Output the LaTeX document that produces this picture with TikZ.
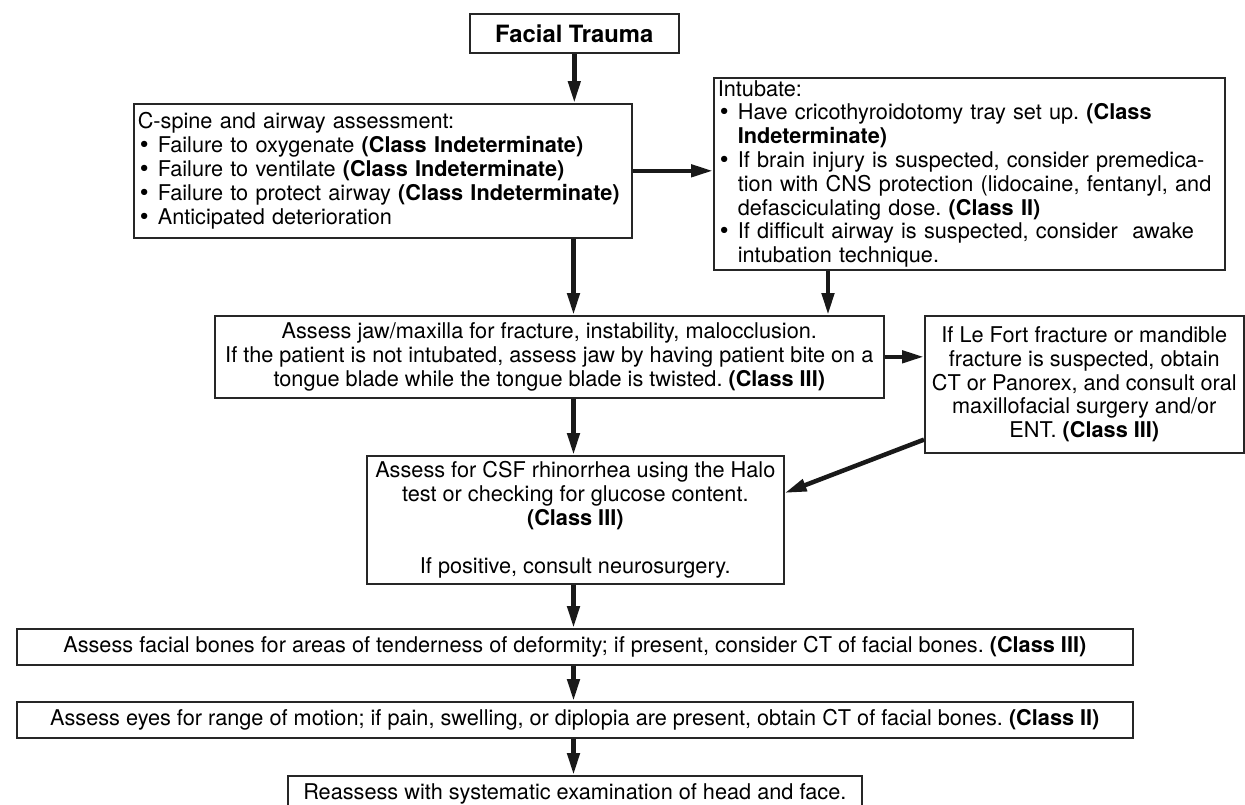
\documentclass[tikz,border=0pt]{standalone}
\usepackage{fontspec}
\setmainfont{TeX Gyre Heros}
\newfontfamily\dejavu{DejaVu Sans}
\usetikzlibrary{arrows.meta,calc}
\newcommand\mainf{\fontsize{21.7pt}{23.8pt}\selectfont}
\newcommand\ftfont{\fontsize{23.8pt}{26pt}\selectfont\bfseries}
\newcommand\bul{{\dejavu\mdseries •}\ }
\newcommand\hang{\phantom{\bul}}
\frenchspacing
\begin{document}
\begin{tikzpicture}[x=1pt,y=-1pt,
  box/.style={draw=black!85, line width=1.6pt, inner xsep=4pt, inner ysep=0pt, font=\mainf, text=black},
  arr/.style={line width=4.5pt, draw=black!90, -{Triangle[length=22pt,width=12pt]}}]
\useasboundingbox (0,0) rectangle (1245,804);
\fill[white] (0,0) rectangle (1245,804);

\node[box, anchor=north west, minimum width=209pt, minimum height=39pt, font=\ftfont] (ft) at (469,13) {Facial Trauma};

\node[box, anchor=north west, minimum height=134pt, text width=490pt, align=left] (cs) at (133,103) {C-spine and airway assessment:\\
\bul Failure to oxygenate \textbf{(Class Indeterminate)}\\
\bul Failure to ventilate \textbf{(Class Indeterminate)}\\
\bul Failure to protect airway \textbf{(Class Indeterminate)}\\
\bul Anticipated deterioration};

\node[box, anchor=north west, minimum height=192pt, text width=503pt, align=left] (intub) at (713,77) {Intubate:\\
\bul Have cricothyroidotomy tray set up. \textbf{(Class}\\
\hang\textbf{Indeterminate)}\\
\bul If brain injury is suspected, consider premedica-\\
\hang tion with CNS protection (lidocaine, fentanyl, and\\
\hang defasciculating dose. \textbf{(Class II)}\\
\bul If difficult airway is suspected, consider\ \ awake\\
\hang intubation technique.};

\node[box, anchor=north west, minimum width=669pt, minimum height=82pt, align=center] (jaw) at (214,315) {Assess jaw/maxilla for fracture, instability, malocclusion.\\
If the patient is not intubated, assess jaw by having patient bite on a\\
tongue blade while the tongue blade is twisted. \textbf{(Class III)}};

\node[box, anchor=north west, minimum width=319pt, minimum height=137pt, align=center] (lefort) at (924,315) {If Le Fort fracture or mandible\\
fracture is suspected, obtain\\
CT or Panorex, and consult oral\\
maxillofacial surgery and/or\\
ENT. \textbf{(Class III)}};

\node[box, anchor=north west, minimum width=417pt, minimum height=128pt, align=center] (csf) at (366,455) {Assess for CSF rhinorrhea using the Halo\\
test or checking for glucose content.\\
\textbf{(Class III)}\\[23.8pt]
If positive, consult neurosurgery.};

\node[box, anchor=north west, minimum width=1116pt, minimum height=36pt, align=center] (fac) at (16,628) {Assess facial bones for areas of tenderness of deformity; if present, consider CT of facial bones. \textbf{(Class III)}};

\node[box, anchor=north west, minimum width=1116pt, minimum height=36pt, align=center] (eyes) at (16,701) {Assess eyes for range of motion; if pain, swelling, or diplopia are present, obtain CT of facial bones. \textbf{(Class II)}};

\node[box, anchor=north west, minimum width=574pt, minimum height=36pt, align=center] (reass) at (287,775) {Reassess with systematic examination of head and face.};

\coordinate (colm) at (573.5,0);
\coordinate (coli) at (828,0);
\coordinate (lfa) at ($(lefort.south west)+(0,-14)$);
\coordinate (csfa) at ($(csf.north east)+(0,38)$);

\draw[arr] (ft.south) -- (ft.south |- cs.north);
\draw[arr] (cs.south -| colm) -- (jaw.north -| colm);
\draw[arr] (cs.east) -- (cs.east -| intub.west);
\draw[arr] (intub.south -| coli) -- (jaw.north -| coli);
\draw[arr] (jaw.east) -- (jaw.east -| lefort.west);
\draw[arr] (lfa) -- (csfa);
\draw[arr] (jaw.south -| colm) -- (csf.north -| colm);
\draw[arr] (csf.south -| colm) -- (fac.north -| colm);
\draw[arr] (fac.south -| colm) -- (eyes.north -| colm);
\draw[arr] (eyes.south -| colm) -- (reass.north -| colm);
\end{tikzpicture}
\end{document}
